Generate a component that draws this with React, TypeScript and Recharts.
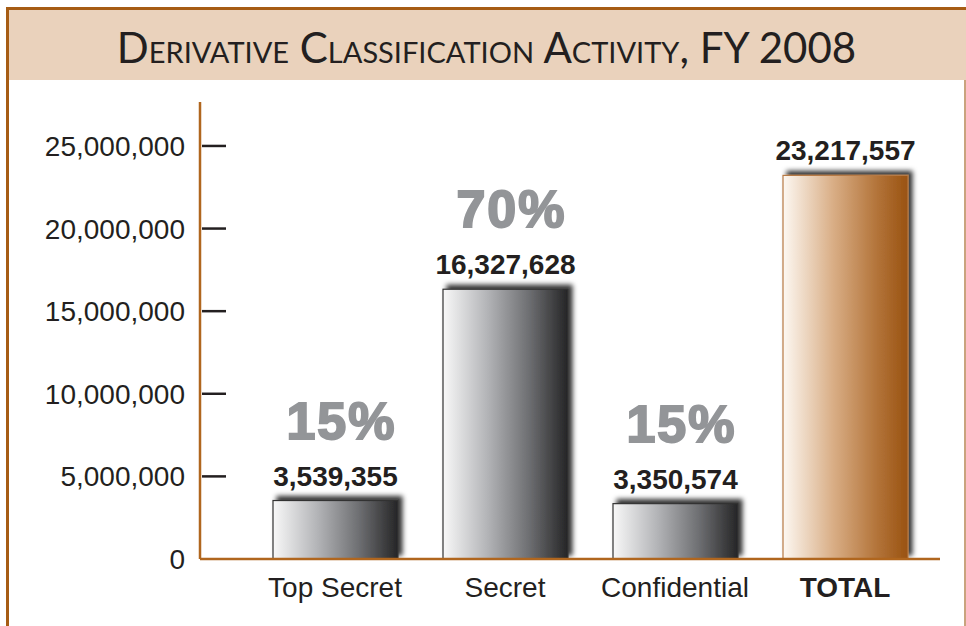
import { BarChart, Bar, XAxis, YAxis, LabelList } from 'recharts'

const categories = ['Top Secret', 'Secret', 'Confidential', 'TOTAL']
const counts = [3539355, 16327628, 3350574, 23217557]
const shares = ['15%', '70%', '15%', '']
const yTicks = [0, 5000000, 10000000, 15000000, 20000000, 25000000]

const data = categories.map((name, i) => ({ name, value: counts[i], pct: shares[i] }))

const brown = '#a65c14'
const ink = '#231f20'
const font = '"Liberation Sans", Arial, Helvetica, sans-serif'

const fmt = (v: number) => v.toLocaleString('en-US')

const BarShape = (props: any) => {
  const { x, y, width, height, payload } = props
  const total = payload && payload.name === 'TOTAL'
  return (
    <rect
      x={x}
      y={y}
      width={width}
      height={height}
      fill={total ? 'url(#brownGrad)' : 'url(#grayGrad)'}
      stroke={total ? '#b77a45' : '#333'}
      strokeWidth={1.2}
      filter="url(#barShadow)"
    />
  )
}

const ValueLabel = (props: any) => {
  const { x, y, width, value } = props
  return (
    <text x={x + width / 2} y={y - 15} textAnchor="middle" fontFamily={font} fontWeight="bold" fontSize={28} fill={ink}>
      {fmt(value)}
    </text>
  )
}

const PctLabel = (props: any) => {
  const { x, y, width, value } = props
  if (!value) return null
  return (
    <text
      x={x + width / 2 + 6}
      y={y - 62}
      textAnchor="middle"
      fontFamily={font}
      fontWeight="bold"
      fontSize={52}
      letterSpacing={2}
      fill="#939598"
      stroke="#939598"
      strokeWidth={2}
    >
      {value}
    </text>
  )
}

const YTick = (props: any) => {
  const { x, y, payload } = props
  return (
    <g>
      {payload.value !== 0 && <line x1={x + 2} x2={x + 26} y1={y} y2={y} stroke={ink} strokeWidth={2.5} />}
      <text x={x - 15} y={y + 10} textAnchor="end" fontFamily={font} fontSize={28} fill={ink}>
        {fmt(payload.value)}
      </text>
    </g>
  )
}

const XTick = (props: any) => {
  const { x, y, payload } = props
  return (
    <text
      x={x}
      y={y + 38}
      textAnchor="middle"
      fontFamily={font}
      fontSize={28}
      fontWeight={payload.value === 'TOTAL' ? 'bold' : 'normal'}
      fill={ink}
    >
      {payload.value}
    </text>
  )
}

export default function App() {
  return (
    <div style={{ position: 'absolute', left: 0, top: 0, width: 966, height: 626, background: '#fff', overflow: 'hidden' }}>
      <svg width={0} height={0} style={{ position: 'absolute' }}>
        <defs>
          <linearGradient id="grayGrad" x1="0" y1="0" x2="1" y2="0">
            <stop offset="0%" stopColor="#f8f8f8" />
            <stop offset="35%" stopColor="#b4b5b8" />
            <stop offset="70%" stopColor="#6b6c6f" />
            <stop offset="100%" stopColor="#252526" />
          </linearGradient>
          <linearGradient id="brownGrad" x1="0" y1="0" x2="1" y2="0">
            <stop offset="0%" stopColor="#fdf8f2" />
            <stop offset="40%" stopColor="#d9ae86" />
            <stop offset="75%" stopColor="#b3743a" />
            <stop offset="100%" stopColor="#995210" />
          </linearGradient>
          <filter id="barShadow" x="-20%" y="-20%" width="140%" height="140%">
            <feDropShadow dx={4} dy={-4} stdDeviation={2.5} floodColor="#000" floodOpacity={0.8} />
          </filter>
        </defs>
      </svg>

      {/* frame and title band */}
      <div style={{ position: 'absolute', left: 9, top: 9, width: 957, height: 71, background: '#ead2bc' }} />
      <div style={{ position: 'absolute', left: 6, top: 7, width: 960, height: 3, background: brown }} />
      <div style={{ position: 'absolute', left: 6, top: 7, width: 3, height: 619, background: brown }} />
      <div style={{ position: 'absolute', left: 964, top: 80, width: 1.5, height: 546, background: '#c9a37e' }} />
      <div
        style={{
          position: 'absolute',
          left: 8,
          top: 19,
          width: 957,
          textAlign: 'center',
          fontFamily: 'Lato, "Open Sans", sans-serif',
          fontSize: 42,
          lineHeight: '56px',
          fontVariant: 'small-caps',
          color: ink,
        }}
      >
        Derivative Classification Activity, FY 2008
      </div>

      <div style={{ position: 'absolute', left: 0, top: 0 }}>
        <BarChart width={966} height={626} data={data} margin={{ top: 102, right: 26, bottom: 37, left: 0 }}>
          <XAxis
            dataKey="name"
            height={30}
            padding={{ left: 50, right: 10 }}
            axisLine={{ stroke: '#b0661e', strokeWidth: 2.5 }}
            tickLine={false}
            tickSize={0}
            tickMargin={0}
            tick={<XTick />}
            interval={0}
          />
          <YAxis
            width={200}
            domain={[0, 27660000]}
            ticks={yTicks}
            allowDataOverflow
            axisLine={{ stroke: '#b0661e', strokeWidth: 2.5 }}
            tickLine={false}
            tickSize={0}
            tickMargin={0}
            tick={<YTick />}
          />
          <Bar dataKey="value" barSize={125} shape={<BarShape />} isAnimationActive={false}>
            <LabelList dataKey="value" content={<ValueLabel />} />
            <LabelList dataKey="pct" content={<PctLabel />} />
          </Bar>
        </BarChart>
      </div>
    </div>
  )
}
